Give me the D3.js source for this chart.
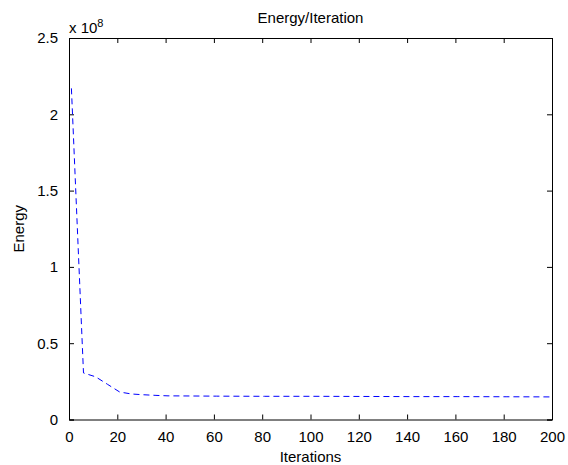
<!DOCTYPE html>
<html>
<head>
<meta charset="utf-8">
<script src="https://cdn.jsdelivr.net/npm/d3@7"></script>
<style>
  body { margin: 0; background: #fff; }
  text { font-family: "Liberation Sans", Arial, sans-serif; fill: #000; }
</style>
</head>
<body>
<svg id="canvas"></svg>
<script>
// energy values are in units of 1e8
let iterations = [1, 6, 11, 16, 21, 26, 31, 36, 41, 51, 61, 81, 101, 121, 141, 161, 181, 200]
let energy = [2.17, 0.305, 0.28, 0.23, 0.18, 0.167, 0.162, 0.158, 0.155, 0.154, 0.153, 0.152, 0.152, 0.151, 0.150, 0.150, 0.149, 0.148]
let xTicks = [0, 20, 40, 60, 80, 100, 120, 140, 160, 180, 200]
let yTicks = [0, 0.5, 1, 1.5, 2, 2.5]

let width = 568
let height = 465
let plotLeft = 69
let plotRight = 552
let plotTop = 38
let plotBottom = 419.5

let svg = d3.select('#canvas')
svg.attr('width', width).attr('height', height)

let xScale = d3.scaleLinear().domain([0, 200]).range([plotLeft, plotRight])
let yScale = d3.scaleLinear().domain([0, 2.5]).range([plotBottom, plotTop])

let fmt = d => String(d)

/*axes, ticks pointing inward like matlab*/
svg.append('g')
   .attr('transform', `translate(0,${plotBottom})`)
   .call(d3.axisBottom(xScale).tickValues(xTicks).tickSize(-5).tickPadding(12).tickFormat(fmt))
svg.append('g')
   .attr('transform', `translate(0,${plotTop})`)
   .call(d3.axisTop(xScale).tickValues(xTicks).tickSize(-5).tickFormat(''))
svg.append('g')
   .attr('transform', `translate(${plotLeft},0)`)
   .call(d3.axisLeft(yScale).tickValues(yTicks).tickSize(-5).tickPadding(11).tickFormat(fmt))
svg.append('g')
   .attr('transform', `translate(${plotRight},0)`)
   .call(d3.axisRight(yScale).tickValues(yTicks).tickSize(-5).tickFormat(''))

svg.selectAll('.domain').attr('stroke', '#000').attr('stroke-width', 1)
svg.selectAll('.tick line').attr('stroke', '#000')
svg.selectAll('.tick text')
   .style('font-size', '15px')
   .style('font-family', '"Liberation Sans", Arial, sans-serif')
   .attr('fill', '#000')

/*the data line*/
let line = d3.line()
    .x((d, i) => xScale(iterations[i]))
    .y(d => yScale(d))

svg.append('path')
   .datum(energy)
   .attr('d', line)
   .attr('fill', 'none')
   .attr('stroke', '#0000ff')
   .attr('stroke-width', 1)
   .attr('stroke-dasharray', '6,4')

/*labels*/
svg.append('text')
   .attr('x', (plotLeft + plotRight) / 2)
   .attr('y', 23)
   .attr('text-anchor', 'middle')
   .style('font-size', '15px')
   .text('Energy/Iteration')

svg.append('text')
   .attr('x', (plotLeft + plotRight) / 2)
   .attr('y', 462)
   .attr('text-anchor', 'middle')
   .style('font-size', '15px')
   .text('Iterations')

svg.append('text')
   .attr('transform', `translate(24,${(plotTop + plotBottom) / 2}) rotate(-90)`)
   .attr('text-anchor', 'middle')
   .style('font-size', '15px')
   .text('Energy')

let exp = svg.append('text')
   .attr('x', plotLeft)
   .attr('y', 33)
   .style('font-size', '15px')
exp.append('tspan').text('x 10')
exp.append('tspan').attr('dy', -6).style('font-size', '11px').text('8')
</script>
</body>
</html>
